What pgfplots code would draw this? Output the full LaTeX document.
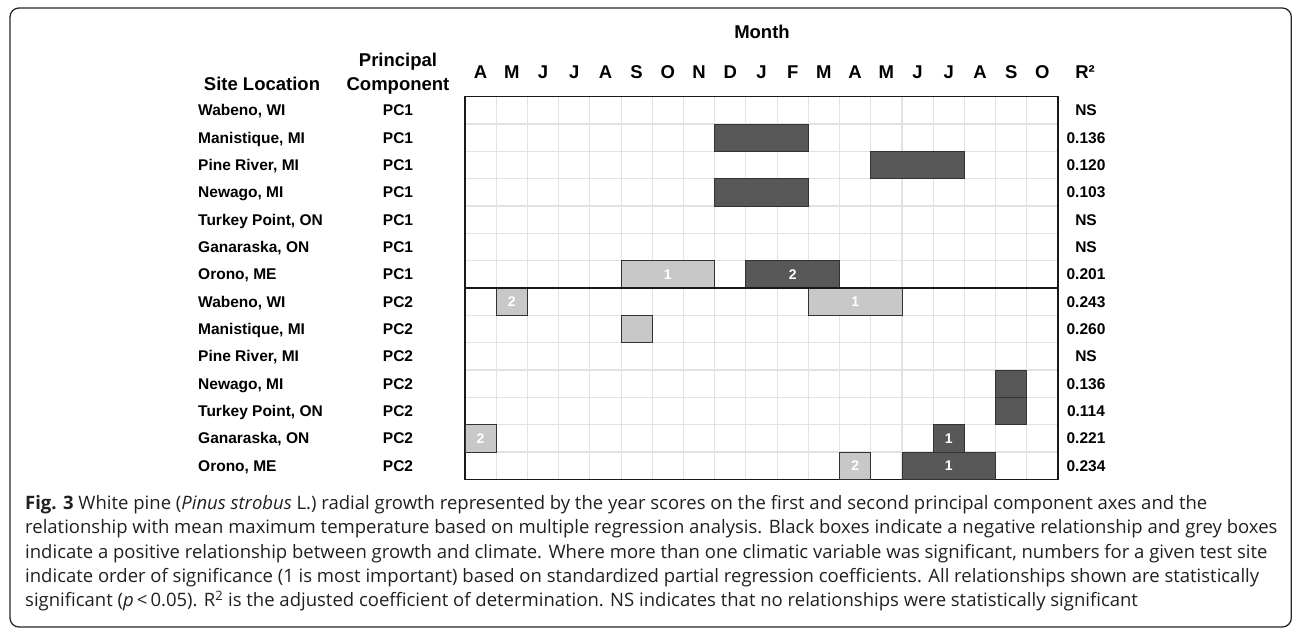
\documentclass[border=0pt]{standalone}
\usepackage{pgfplots}
\pgfplotsset{compat=1.18}
\usepackage{fontspec}
\setmainfont{Liberation Sans}
\newfontfamily\capfont{Open Sans}
\definecolor{darkbox}{HTML}{585858}
\definecolor{lightbox}{HTML}{C8C8C8}
\definecolor{gridc}{HTML}{E2E2E2}
\definecolor{boxedge}{HTML}{333333}
\definecolor{captxt}{HTML}{231F20}
\tikzset{
  lt/.style={fill=lightbox, draw=boxedge, line width=0.9pt},
  dk/.style={fill=darkbox, draw=boxedge, line width=0.9pt},
  lab/.style={white, inner sep=0pt, font=\fontsize{14}{16}\selectfont\bfseries},
}
\begin{document}
\begin{tikzpicture}[x=1pt,y=1pt]
\useasboundingbox (0,0) rectangle (1292,632);
\draw[black!85, line width=1.3pt, rounded corners=9pt] (10,624) rectangle (1291.3,5);
\begin{axis}[
  at={(465pt,152.7pt)}, anchor=south west,
  scale only axis, width=593pt, height=382.6pt,
  xmin=0, xmax=19, ymin=0, ymax=14, y dir=reverse,
  xtick={0,...,19}, ytick={0,...,14},
  xticklabels={}, yticklabels={},
  major tick length=0pt,
  grid=major, grid style={gridc, line width=1.1pt},
  axis line style={black!90, line width=1.4pt},
  clip=false,
]
% PC1 rows (0-6)
\addplot[dk] coordinates {(8,1) (11,1) (11,2) (8,2)} -- cycle;
\addplot[dk] coordinates {(13,2) (16,2) (16,3) (13,3)} -- cycle;
\addplot[dk] coordinates {(8,3) (11,3) (11,4) (8,4)} -- cycle;
\addplot[lt] coordinates {(5,6) (8,6) (8,7) (5,7)} -- cycle;
\addplot[dk] coordinates {(9,6) (12,6) (12,7) (9,7)} -- cycle;
% PC2 rows (7-13)
\addplot[lt] coordinates {(1,7) (2,7) (2,8) (1,8)} -- cycle;
\addplot[lt] coordinates {(11,7) (14,7) (14,8) (11,8)} -- cycle;
\addplot[lt] coordinates {(5,8) (6,8) (6,9) (5,9)} -- cycle;
\addplot[dk] coordinates {(17,10) (18,10) (18,11) (17,11)} -- cycle;
\addplot[dk] coordinates {(17,11) (18,11) (18,12) (17,12)} -- cycle;
\addplot[lt] coordinates {(0,12) (1,12) (1,13) (0,13)} -- cycle;
\addplot[dk] coordinates {(15,12) (16,12) (16,13) (15,13)} -- cycle;
\addplot[lt] coordinates {(12,13) (13,13) (13,14) (12,14)} -- cycle;
\addplot[dk] coordinates {(14,13) (17,13) (17,14) (14,14)} -- cycle;
% separator PC1 / PC2
\addplot[black!90, line width=1.4pt] coordinates {(0,7) (19,7)};
% order labels
\node[lab] at (axis cs:6.5,6.5) {1};
\node[lab] at (axis cs:10.5,6.5) {2};
\node[lab] at (axis cs:1.5,7.5) {2};
\node[lab] at (axis cs:12.5,7.5) {1};
\node[lab] at (axis cs:0.5,12.5) {2};
\node[lab] at (axis cs:15.5,12.5) {1};
\node[lab] at (axis cs:12.5,13.5) {2};
\node[lab] at (axis cs:15.5,13.5) {1};
\end{axis}
% headers
\begin{scope}[every node/.style={inner sep=0pt, font=\fontsize{18.5}{20}\selectfont\bfseries}]
\node[anchor=base] at (762,593.3) {Month};
\node[anchor=base] at (262,541.3) {Site Location};
\node[anchor=base] at (398,565.3) {Principal};
\node[anchor=base] at (398,541.3) {Component};
\node[anchor=base] at (1085,553.3) {R²};
\foreach \m [count=\i from 0] in {A,M,J,J,A,S,O,N,D,J,F,M,A,M,J,J,A,S,O}
  \node[anchor=base] at ({465+31.21*(\i+0.5)},553.3) {\m};
\end{scope}
% row labels
\begin{scope}[every node/.style={inner sep=0pt, font=\fontsize{15.5}{17}\selectfont\bfseries}]
\foreach \nm/\pc/\rs [count=\r from 0] in {
  {Wabeno, WI}/PC1/NS, {Manistique, MI}/PC1/0.136, {Pine River, MI}/PC1/0.120,
  {Newago, MI}/PC1/0.103, {Turkey Point, ON}/PC1/NS, {Ganaraska, ON}/PC1/NS,
  {Orono, ME}/PC1/0.201, {Wabeno, WI}/PC2/0.243, {Manistique, MI}/PC2/0.260,
  {Pine River, MI}/PC2/NS, {Newago, MI}/PC2/0.136, {Turkey Point, ON}/PC2/0.114,
  {Ganaraska, ON}/PC2/0.221, {Orono, ME}/PC2/0.234} {
  \pgfmathsetmacro\yy{632-96.7-27.33*(\r+0.5)-5.5}
  \node[anchor=base west] at (198,\yy) {\nm};
  \node[anchor=base] at (398,\yy) {\pc};
  \node[anchor=base] at (1086,\yy) {\rs};
}
\end{scope}
% caption
\begin{scope}[every node/.style={inner sep=0pt, anchor=base west, text=captxt, font=\capfont\fontsize{18.5}{20}\selectfont}]
\node at (25,122.5) {\textbf{Fig. 3} White pine (\textit{Pinus strobus} L.) radial growth represented by the year scores on the first and second principal component axes and the};
\node at (25,98.25) {relationship with mean maximum temperature based on multiple regression analysis. Black boxes indicate a negative relationship and grey boxes};
\node at (25,74) {indicate a positive relationship between growth and climate. Where more than one climatic variable was significant, numbers for a given test site};
\node at (25,49.75) {indicate order of significance (1 is most important) based on standardized partial regression coefficients. All relationships shown are statistically};
\node at (25,25.5) {significant (\textit{p}\,<\,0.05). R\textsuperscript{2} is the adjusted coefficient of determination. NS indicates that no relationships were statistically significant};
\end{scope}
\end{tikzpicture}
\end{document}
